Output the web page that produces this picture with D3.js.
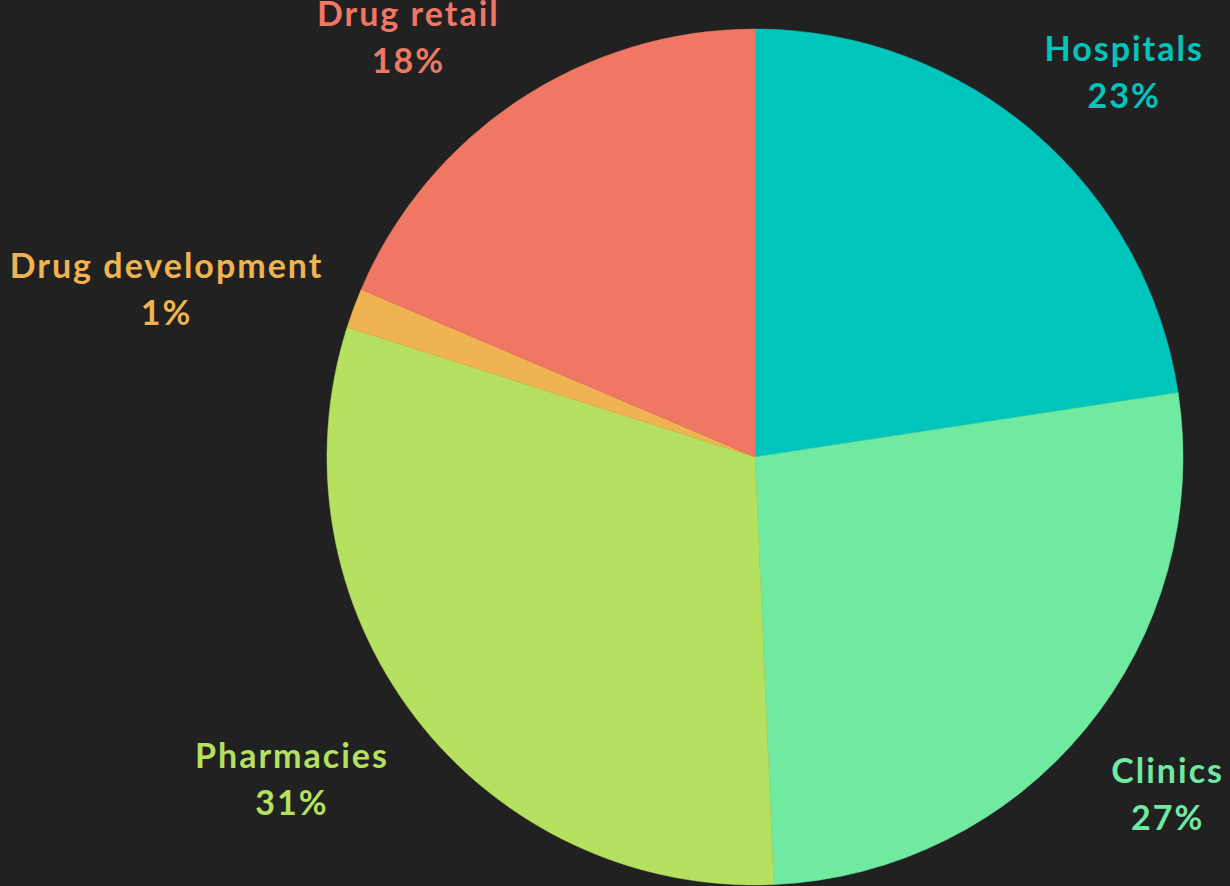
<!DOCTYPE html>
<meta charset="utf-8">
<style>
body { margin: 0; background: #212121; }
.labels {
  font-family: "Lato", "Open Sans", sans-serif;
  font-weight: bold;
  font-size: 34px;
  letter-spacing: 2px;
  text-anchor: middle;
}
</style>
<svg width="1230" height="886"></svg>
<script src="https://d3js.org/d3.v7.min.js"></script>
<script>
var categories = ["Hospitals", "Clinics", "Pharmacies", "Drug development", "Drug retail"];
var shares = [22.6, 26.7, 30.6, 1.5, 18.6];
var pctLabels = ["23%", "27%", "31%", "1%", "18%"];
var colors = ["#00c5bd", "#70eaa0", "#b6e05f", "#efb351", "#ef7764"];

var svg = d3.select("svg"),
    width = +svg.attr("width"),
    height = +svg.attr("height");

svg.append("rect")
    .attr("width", width)
    .attr("height", height)
    .attr("fill", "#212121");

var cx = 755, cy = 457, radius = 428;

var data = categories.map((c, i) => ({ name: c, value: shares[i], pct: pctLabels[i], color: colors[i] }));

var pie = d3.pie().sort(null).value(d => d.value);
var arc = d3.arc().innerRadius(0).outerRadius(radius);

var g = svg.append("g").attr("transform", "translate(" + cx + "," + cy + ")");

var arcs = pie(data);

g.selectAll("path")
  .data(arcs)
  .enter().append("path")
    .attr("d", arc)
    .attr("fill", d => d.data.color)
    .attr("stroke", d => d.data.color)
    .attr("stroke-width", 0.5);

// labels: put outside the slice, box pushed out along the mid angle
var offset = 28, pad = 4, lineGap = 47, boxH = 95, capH = 25;
var labels = g.selectAll(".labels")
  .data(arcs)
  .enter().append("text")
    .attr("class", "labels")
    .attr("fill", d => d.data.color);
labels.append("tspan").attr("x", 0).attr("y", 0).text(d => d.data.name);
labels.append("tspan").attr("x", 0).attr("y", lineGap).text(d => d.data.pct);

labels.attr("transform", function(d) {
  var bb = this.getBBox();
  var w = bb.width + pad * 2, h = boxH;
  var a = (d.startAngle + d.endAngle) / 2;
  var vx = Math.sin(a), vy = -Math.cos(a);
  var vs = 1 / Math.max(Math.abs(vx), Math.abs(vy));
  var ax = (radius + offset) * vx, ay = (radius + offset) * vy;
  var bx = ax + w / 2 * vx * vs, by = ay + h / 2 * vy * vs;
  // top label is pushed left where it meets the top edge
  if (by - h / 2 < -cy) bx -= 32;
  // centre of the block = middle of cap top (line 1) and baseline (line 2)
  var tx = bx - (bb.x + bb.width / 2), ty = by - (lineGap - capH) / 2 + 8;
  return "translate(" + tx + "," + ty + ")";
});
</script>
